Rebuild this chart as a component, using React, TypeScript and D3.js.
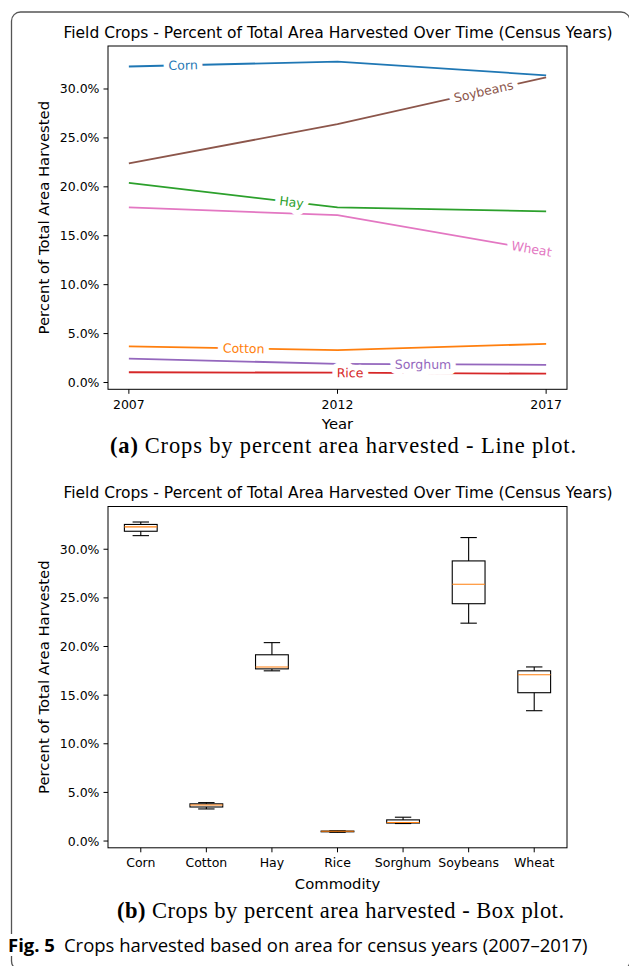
import React, { useEffect, useRef } from "react";
import * as d3 from "d3";

const years = [2007, 2012, 2017];
const commodities = ["Corn", "Cotton", "Hay", "Rice", "Sorghum", "Soybeans", "Wheat"];
const cornPct = [32.3, 32.8, 31.4];
const cottonPct = [3.7, 3.3, 3.95];
const hayPct = [20.4, 17.9, 17.5];
const ricePct = [1.05, 1.0, 0.9];
const sorghumPct = [2.45, 1.9, 1.8];
const soybeansPct = [22.4, 26.4, 31.2];
const wheatPct = [17.9, 17.1, 13.4];
const yTicks = [0, 5, 10, 15, 20, 25, 30];
// year at which each inline line label sits
const labelYears = [2008.3, 2009.75, 2010.9, 2012.3, 2014.05, 2015.5, 2016.65];
const palette = ["#1f77b4", "#ff7f0e", "#2ca02c", "#d62728", "#9467bd", "#8c564b", "#e377c2"];

const chartTitle = "Field Crops - Percent of Total Area Harvested Over Time (Census Years)";
const yTitle = "Percent of Total Area Harvested";

const series = [cornPct, cottonPct, hayPct, ricePct, sorghumPct, soybeansPct, wheatPct];

const W = 629, H = 966;
const left = 108, right = 567;
const font = "DejaVu Sans, sans-serif";

const yDomain = () => {
  const all = series.flat();
  const [lo, hi] = d3.extent(all) as [number, number];
  const pad = (hi - lo) * 0.05;
  return [lo - pad, hi + pad];
};

const pctFmt = (d: number) => d3.format(".1f")(d) + "%";

const drawAxesFrame = (g, top, bottom) => {
  g.append("rect")
    .attr("x", left).attr("y", top)
    .attr("width", right - left).attr("height", bottom - top)
    .attr("fill", "none").attr("stroke", "#000").attr("stroke-width", 1);
};

const drawYAxis = (g, y, top, bottom) => {
  const ax = g.append("g");
  yTicks.forEach((t) => {
    ax.append("line")
      .attr("x1", left - 4.5).attr("x2", left)
      .attr("y1", y(t)).attr("y2", y(t))
      .attr("stroke", "#000").attr("stroke-width", 1);
    ax.append("text")
      .attr("x", left - 8.5).attr("y", y(t))
      .attr("text-anchor", "end").attr("dominant-baseline", "central")
      .attr("font-size", 12.5).attr("font-family", font).attr("fill", "#000")
      .text(pctFmt(t));
  });
  g.append("text")
    .attr("transform", `translate(43, ${(top + bottom) / 2}) rotate(-90)`)
    .attr("text-anchor", "middle").attr("dominant-baseline", "central")
    .attr("font-size", 14.8).attr("font-family", font)
    .text(yTitle);
};

const createFigure = (node) => {
  const svg = d3.select(node);
  svg.selectAll("*").remove();

  svg.append("rect").attr("width", W).attr("height", H).attr("fill", "#fff");

  // ---- (a) line plot ----
  const topA = 46, bottomA = 389.3;
  const x = d3.scaleLinear().domain([2006.5, 2017.5]).range([left, right]);
  const yA = d3.scaleLinear().domain(yDomain()).range([bottomA, topA]);

  const gA = svg.append("g");
  gA.append("text")
    .attr("x", 338).attr("y", 33)
    .attr("text-anchor", "middle").attr("dominant-baseline", "central")
    .attr("font-size", 15.5).attr("font-family", font)
    .text(chartTitle);

  const line = d3.line<number>()
    .x((d, i) => x(years[i]))
    .y((d) => yA(d));

  series.forEach((s, i) => {
    gA.append("path").datum(s)
      .attr("d", line)
      .attr("fill", "none")
      .attr("stroke", palette[i])
      .attr("stroke-width", 1.8);
  });

  // inline labels, white halo hides line underneath
  series.forEach((s, i) => {
    const yr = labelYears[i];
    const idx = yr < 2012 ? 0 : 1;
    const t = (yr - years[idx]) / (years[idx + 1] - years[idx]);
    const v = s[idx] + t * (s[idx + 1] - s[idx]);
    const dx = x(years[idx + 1]) - x(years[idx]);
    const dy = yA(s[idx + 1]) - yA(s[idx]);
    const ang = (Math.atan2(dy, dx) * 180) / Math.PI;
    gA.append("text")
      .attr("transform", `translate(${x(yr)}, ${yA(v)}) rotate(${ang})`)
      .attr("text-anchor", "middle").attr("dominant-baseline", "central")
      .attr("font-size", 12.5).attr("font-family", font)
      .attr("fill", palette[i])
      .attr("stroke", "#fff").attr("stroke-width", 11)
      .attr("stroke-linejoin", "round")
      .attr("paint-order", "stroke")
      .text(commodities[i]);
  });

  drawAxesFrame(gA, topA, bottomA);
  drawYAxis(gA, yA, topA, bottomA);

  years.forEach((yr) => {
    gA.append("line")
      .attr("x1", x(yr)).attr("x2", x(yr))
      .attr("y1", bottomA).attr("y2", bottomA + 4.5)
      .attr("stroke", "#000");
    gA.append("text")
      .attr("x", x(yr)).attr("y", bottomA + 15)
      .attr("text-anchor", "middle").attr("dominant-baseline", "central")
      .attr("font-size", 12.5).attr("font-family", font)
      .text(yr);
  });
  gA.append("text")
    .attr("x", (left + right) / 2).attr("y", 423)
    .attr("text-anchor", "middle").attr("dominant-baseline", "central")
    .attr("font-size", 14.8).attr("font-family", font)
    .text("Year");

  // ---- (b) box plot ----
  const topB = 506.5, bottomB = 847.8;
  const xb = d3.scalePoint().domain(commodities).range([left, right]).padding(0.5);
  const yB = d3.scaleLinear().domain(yDomain()).range([bottomB, topB]);
  const step = xb.step();
  const boxW = step * 0.5;
  const capW = step * 0.25;

  const gB = svg.append("g");
  gB.append("text")
    .attr("x", 338).attr("y", 493)
    .attr("text-anchor", "middle").attr("dominant-baseline", "central")
    .attr("font-size", 15.5).attr("font-family", font)
    .text(chartTitle);

  series.forEach((s, i) => {
    const sorted = [...s].sort(d3.ascending);
    const q1 = d3.quantile(sorted, 0.25);
    const med = d3.quantile(sorted, 0.5);
    const q3 = d3.quantile(sorted, 0.75);
    const iqr = q3 - q1;
    const lo = d3.min(sorted.filter((v) => v >= q1 - 1.5 * iqr));
    const hi = d3.max(sorted.filter((v) => v <= q3 + 1.5 * iqr));
    const cx = xb(commodities[i]);
    const g = gB.append("g").attr("stroke", "#000").attr("stroke-width", 1.1).attr("fill", "none");
    g.append("line").attr("x1", cx).attr("x2", cx).attr("y1", yB(q3)).attr("y2", yB(hi));
    g.append("line").attr("x1", cx).attr("x2", cx).attr("y1", yB(q1)).attr("y2", yB(lo));
    g.append("line").attr("x1", cx - capW / 2).attr("x2", cx + capW / 2).attr("y1", yB(hi)).attr("y2", yB(hi));
    g.append("line").attr("x1", cx - capW / 2).attr("x2", cx + capW / 2).attr("y1", yB(lo)).attr("y2", yB(lo));
    g.append("rect")
      .attr("x", cx - boxW / 2).attr("y", yB(q3))
      .attr("width", boxW).attr("height", Math.max(0, yB(q1) - yB(q3)));
    g.append("line")
      .attr("x1", cx - boxW / 2).attr("x2", cx + boxW / 2)
      .attr("y1", yB(med)).attr("y2", yB(med))
      .attr("stroke", "#ff7f0e");
  });

  drawAxesFrame(gB, topB, bottomB);
  drawYAxis(gB, yB, topB, bottomB);

  commodities.forEach((c) => {
    gB.append("line")
      .attr("x1", xb(c)).attr("x2", xb(c))
      .attr("y1", bottomB).attr("y2", bottomB + 4.5)
      .attr("stroke", "#000");
    gB.append("text")
      .attr("x", xb(c)).attr("y", bottomB + 15)
      .attr("text-anchor", "middle").attr("dominant-baseline", "central")
      .attr("font-size", 12.5).attr("font-family", font)
      .text(c);
  });
  gB.append("text")
    .attr("x", (left + right) / 2).attr("y", 883)
    .attr("text-anchor", "middle").attr("dominant-baseline", "central")
    .attr("font-size", 14.8).attr("font-family", font)
    .text("Commodity");

  // ---- captions ----
  const serif = "Liberation Serif, serif";
  const capA = svg.append("text")
    .attr("x", 110).attr("y", 453)
    .attr("textLength", 466).attr("lengthAdjust", "spacing")
    .attr("font-size", 22.5).attr("font-family", serif);
  capA.append("tspan").attr("font-weight", "bold").text("(a)");
  capA.append("tspan").attr("dx", 6).text("Crops by percent area harvested - Line plot.");

  const capB = svg.append("text")
    .attr("x", 117).attr("y", 918)
    .attr("textLength", 447).attr("lengthAdjust", "spacing")
    .attr("font-size", 22.5).attr("font-family", serif);
  capB.append("tspan").attr("font-weight", "bold").text("(b)");
  capB.append("tspan").attr("dx", 6).text("Crops by percent area harvested - Box plot.");

  // outer rounded frame
  svg.append("rect")
    .attr("x", 11.5).attr("y", 12)
    .attr("width", 618.5).attr("height", 958)
    .attr("rx", 9)
    .attr("fill", "none").attr("stroke", "#555").attr("stroke-width", 1.3);

  svg.append("rect")
    .attr("x", 6).attr("y", 934).attr("width", 600).attr("height", 22)
    .attr("fill", "#fff");
  const fig = svg.append("text")
    .attr("x", 8).attr("y", 952)
    .attr("font-size", 18.5).attr("font-family", "Open Sans, sans-serif");
  fig.append("tspan").attr("font-weight", "bold").text("Fig. 5");
  fig.append("tspan").attr("dx", 9).text("Crops harvested based on area for census years (2007\u20132017)");
};

export default function App() {
  const ref = useRef(null);
  useEffect(() => {
    createFigure(ref.current);
  }, []);
  return (
    <svg
      ref={ref}
      width={W}
      height={H}
      style={{ position: "absolute", left: 0, top: 0, display: "block" }}
    />
  );
}
